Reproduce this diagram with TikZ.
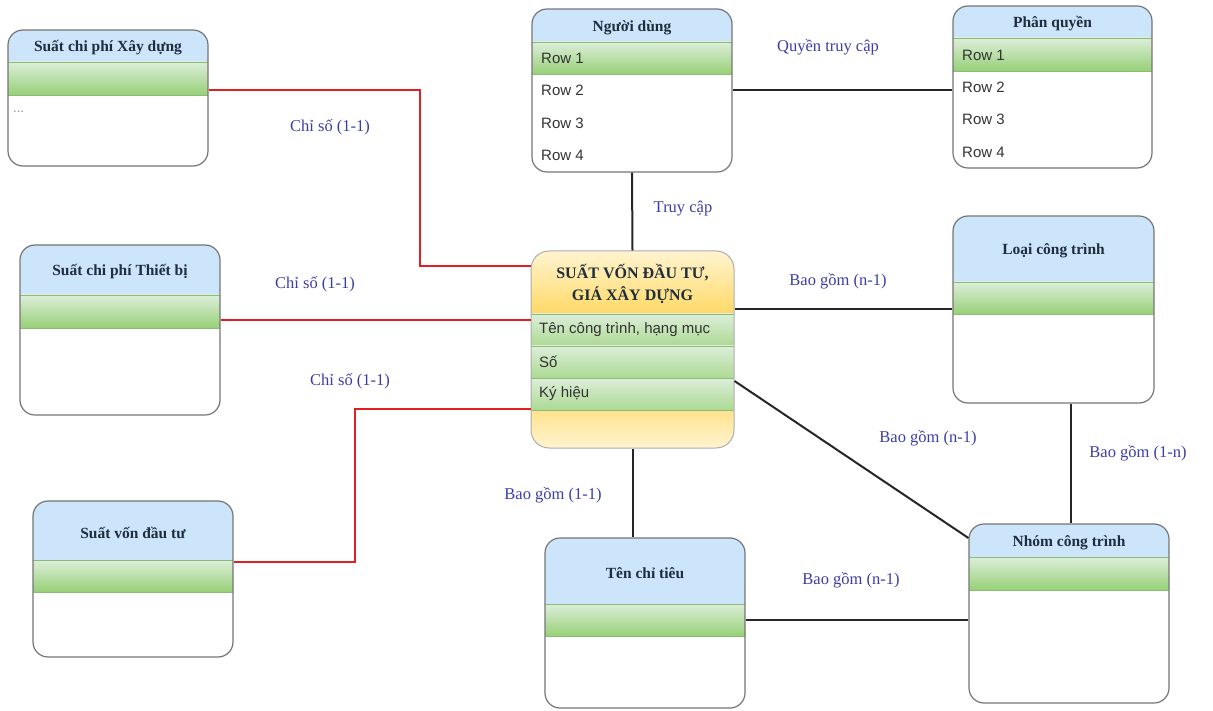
\documentclass[tikz,border=0pt]{standalone}
\usepackage{fontspec}
\setmainfont{Liberation Serif}
\newfontfamily\rowfont{Liberation Sans}
\usetikzlibrary{fit,calc}
\definecolor{hdrblue}{HTML}{CCE5FB}
\definecolor{grtop}{HTML}{DDEEDA}
\definecolor{grbot}{HTML}{97D077}
\definecolor{yltop}{HTML}{FFF4D0}
\definecolor{ylbot}{HTML}{FFD966}
\definecolor{lblblue}{HTML}{3C3CA8}
\definecolor{ttl}{HTML}{1F2D3D}
\definecolor{brd}{HTML}{757575}
\definecolor{sepc}{HTML}{8DBB78}
\definecolor{redline}{HTML}{E02020}
\definecolor{rowtxt}{HTML}{333333}
\tikzset{
  entframe/.style={inner sep=0pt, draw=brd, line width=1.2pt, rounded corners=15pt},
  ttlstyle/.style={font=\bfseries\fontsize{15.5}{18}\selectfont, text=ttl, align=center, inner sep=1pt},
  rowstyle/.style={font=\rowfont\fontsize{15}{17}\selectfont, text=rowtxt, anchor=west, inner sep=1pt},
  lbl/.style={font=\fontsize{16.5}{18}\selectfont, text=lblblue, inner sep=1pt},
  sepline/.style={draw=sepc, line width=0.6pt},
  redl/.style={draw=redline, line width=2pt},
  blkl/.style={draw=black!85, line width=2pt},
}
% name, x1, y1, x2, y2, header bottom, green bottom, title
\newcommand\ebox[8]{%
  \begin{scope}
    \clip[rounded corners=15pt] (#2,#3) rectangle (#4,#5);
    \fill[hdrblue] (#2,#3) rectangle (#4,#6);
    \shade[top color=grtop, bottom color=grbot] (#2,#6) rectangle (#4,#7);
    \fill[white] (#2,#7) rectangle (#4,#5);
  \end{scope}
  \draw[sepline] (#2,#6) -- (#4,#6);
  \draw[sepline] (#2,#7) -- (#4,#7);
  \node[entframe, fit={(#2,#3) (#4,#5)}] (#1) {};
  \node[ttlstyle] (#1-t) at ($(#2,#3)!0.5!(#4,#6)+(0,2)$) {#8};
}
\begin{document}
\begin{tikzpicture}[x=1pt,y=-1pt]
\useasboundingbox (0,0) rectangle (1213,711);

% entities
\ebox{xd}{8}{30}{208}{166}{62}{95}{Suất chi phí Xây dựng}
\node[font=\rowfont\fontsize{13}{14}\selectfont, text=black!45, anchor=west, inner sep=0pt] (xd-dots) at (13,112) {...};
\ebox{tb}{20}{245}{220}{415}{295}{328}{Suất chi phí Thiết bị}
\ebox{vd}{33}{501}{233}{657}{560}{592}{Suất vốn đầu tư}
\ebox{nd}{532}{9}{732}{172}{42}{74}{Người dùng}
\ebox{pq}{953}{6}{1152}{168}{38}{71}{Phân quyền}
\ebox{lct}{953}{216}{1154}{403}{282}{314}{Loại công trình}
\ebox{tct}{545}{538}{745}{708}{604}{636}{Tên chỉ tiêu}
\ebox{nct}{969}{524}{1169}{703}{557}{590}{Nhóm công trình}

% rows
\node[rowstyle] (nd-r1) at (540,58) {Row 1};
\node[rowstyle] (nd-r2) at (540,90) {Row 2};
\node[rowstyle] (nd-r3) at (540,123) {Row 3};
\node[rowstyle] (nd-r4) at (540,155) {Row 4};
\node[rowstyle] (pq-r1) at (961,55) {Row 1};
\node[rowstyle] (pq-r2) at (961,87) {Row 2};
\node[rowstyle] (pq-r3) at (961,119) {Row 3};
\node[rowstyle] (pq-r4) at (961,152) {Row 4};

% main entity
\begin{scope}
  \clip[rounded corners=18pt] (531,251) rectangle (734,448);
  \shade[top color=yltop, bottom color=ylbot] (531,251) rectangle (734,314);
  \shade[top color=grtop, bottom color=grbot!80] (531,314) rectangle (734,346);
  \shade[top color=grtop, bottom color=grbot!80] (531,346) rectangle (734,378);
  \shade[top color=grtop, bottom color=grbot!80] (531,378) rectangle (734,410);
  \shade[top color=ylbot!75, bottom color=yltop] (531,410) rectangle (734,448);
\end{scope}
\foreach \yy in {314,346,378,410} \draw[sepline] (531,\yy) -- (734,\yy);
\node[inner sep=0pt, draw=brd!60, line width=1pt, rounded corners=18pt, fit={(531,251) (734,448)}] (main) {};
\node[ttlstyle, font=\bfseries\fontsize{16}{22}\selectfont] (main-t) at (632.5,284) {SUẤT VỐN ĐẦU TƯ,\\GIÁ XÂY DỰNG};
\node[rowstyle] (main-r1) at (538,330) {Tên công trình, hạng mục};
\node[rowstyle] (main-r2) at (538,362) {Số};
\node[rowstyle] (main-r3) at (538,394) {Ký hiệu};

% helper coordinates
\coordinate (r1a) at (420,90);
\coordinate (r1b) at (420,266);
\coordinate (r2) at (0,320);
\coordinate (r3a) at (355,562);
\coordinate (r3b) at (355,409);
\coordinate (q) at (0,90);
\coordinate (c309) at (0,309);
\coordinate (c381) at (0,381);
\coordinate (c538) at (0,538);
\coordinate (c620) at (0,620);
\coordinate (x1071) at (1071,0);

% red connectors
\draw[redl] (xd.east |- r1a) -- (r1a) -- (r1b) -- (main.west |- r1b);
\draw[redl] (tb.east |- r2) -- (main.west |- r2);
\draw[redl] (vd.east |- r3a) -- (r3a) -- (r3b) -- (main.west |- r3b);

% black connectors
\draw[blkl] (nd.south) -- (main.north);
\draw[blkl] (nd.east |- q) -- (pq.west |- q);
\draw[blkl] (main.east |- c309) -- (lct.west |- c309);
\draw[blkl] (main.east |- c381) -- (nct.west |- c538);
\draw[blkl] (lct.south -| x1071) -- (nct.north -| x1071);
\draw[blkl] (main.south) -- (tct.north -| main.south);
\draw[blkl] (tct.east |- c620) -- (nct.west |- c620);

% labels
\node[lbl] (l1) at (330,127) {Chỉ số (1-1)};
\node[lbl] (l2) at (315,284) {Chỉ số (1-1)};
\node[lbl] (l3) at (350,381) {Chỉ số (1-1)};
\node[lbl] (l4) at (683,209) {Truy cập};
\node[lbl] (l5) at (828,47) {Quyền truy cập};
\node[lbl] (l6) at (838,281) {Bao gồm (n-1)};
\node[lbl] (l7) at (928,438) {Bao gồm (n-1)};
\node[lbl] (l8) at (1138,453) {Bao gồm (1-n)};
\node[lbl] (l9) at (553,495) {Bao gồm (1-1)};
\node[lbl] (l10) at (851,580) {Bao gồm (n-1)};
\end{tikzpicture}
\end{document}
